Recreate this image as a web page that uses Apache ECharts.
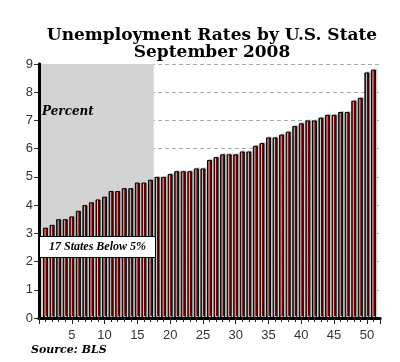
<!DOCTYPE html>
<html>
<head>
<meta charset="utf-8">
<script src="https://cdn.jsdelivr.net/npm/echarts@6/dist/echarts.min.js"></script>
<style>html,body{margin:0;padding:0;background:#fff;}#c{width:400px;height:362px;}</style>
</head>
<body>
<div id="c"></div>
<script>
var titleLines = ['Unemployment Rates by U.S. State', 'September 2008'];
var stateRank = [];
for (var i = 1; i <= 51; i++) stateRank.push(i);
var rates = [3.2, 3.3, 3.5, 3.5, 3.6, 3.8, 4.0, 4.1, 4.2, 4.3,
             4.5, 4.5, 4.6, 4.6, 4.8, 4.8, 4.9, 5.0, 5.0, 5.1,
             5.2, 5.2, 5.2, 5.3, 5.3, 5.6, 5.7, 5.8, 5.8, 5.8,
             5.9, 5.9, 6.1, 6.2, 6.4, 6.4, 6.5, 6.6, 6.8, 6.9,
             7.0, 7.0, 7.1, 7.2, 7.2, 7.3, 7.3, 7.7, 7.8, 8.7, 8.8];
var shadedRange = [0, 17.5];
var xTickLabels = [5, 10, 15, 20, 25, 30, 35, 40, 45, 50];
var yTicks = [0, 1, 2, 3, 4, 5, 6, 7, 8, 9];

var chart = echarts.init(document.getElementById('c'), null, {renderer: 'canvas'});
var barData = stateRank.map(function (r, i) { return [r, rates[i]]; });
var serif = '"DejaVu Serif", "Liberation Serif", serif';
var serif2 = '"Liberation Serif", "DejaVu Serif", serif';
var sans = '"Liberation Sans", Arial, sans-serif';

chart.setOption({
  animation: false,
  backgroundColor: '#fff',
  title: {
    text: titleLines.join('\n'),
    left: 207, top: 22, textAlign: 'center',
    textStyle: {fontFamily: serif, fontWeight: 'bold', fontSize: 17, lineHeight: 17, color: '#000'}
  },
  grid: {left: 39, right: 20, top: 64, bottom: 44},
  xAxis: [{
    type: 'value', min: 0, max: 52, interval: 5, z: 3,
    axisLine: {show: true, onZero: false, lineStyle: {color: '#000', width: 3}},
    axisTick: {show: true, length: 6, lineStyle: {color: '#222'}},
    minorTick: {show: true, splitNumber: 5, length: 4, lineStyle: {color: '#222'}},
    splitLine: {show: false},
    axisLabel: {color: '#333', fontFamily: sans, fontSize: 13, margin: 11,
      formatter: function (v) { return xTickLabels.indexOf(v) >= 0 ? String(v) : ''; }}
  }, {
    type: 'value', min: 0, max: 52, position: 'top', z: 3,
    axisLine: {show: true, lineStyle: {color: '#000', width: 3}},
    axisTick: {show: false}, axisLabel: {show: false}, splitLine: {show: false}
  }],
  yAxis: [{
    type: 'value', min: 0, max: 9, interval: 1, z: 1,
    axisLine: {show: true, lineStyle: {color: '#000', width: 3}},
    axisTick: {show: true, length: 5, lineStyle: {color: '#333'}},
    axisLabel: {color: '#333', fontFamily: sans, fontSize: 13, margin: 6,
      formatter: function (v) { return yTicks.indexOf(v) >= 0 ? String(v) : ''; }},
    splitLine: {show: true, lineStyle: {color: '#aaa', type: [4, 3], width: 1}}
  }, {
    type: 'value', min: 0, max: 9, position: 'right', z: 3,
    axisLine: {show: true, lineStyle: {color: '#000', width: 3}},
    axisTick: {show: false}, axisLabel: {show: false}, splitLine: {show: false}
  }],
  series: [{
    type: 'line', data: [], z: 0, silent: true,
    markArea: {silent: true, itemStyle: {color: '#d3d3d3'},
      data: [[{xAxis: shadedRange[0], yAxis: 0}, {xAxis: shadedRange[1], yAxis: 9}]]}
  }, {
    type: 'bar', data: barData, barWidth: 5, z: 2,
    itemStyle: {color: '#6e0000', borderColor: '#000', borderWidth: 1,
      shadowColor: 'rgba(205,205,205,1)', shadowOffsetX: 1.5, shadowOffsetY: -1, shadowBlur: 0}
  }],
  graphic: [
    {type: 'text', left: 42, top: 106, z: 10,
      style: {text: 'Percent', font: 'italic bold 12px ' + serif, fill: '#000'}},
    {type: 'text', left: 39, top: 236, z: 10,
      style: {text: '17 States Below 5%', font: 'italic bold 12px ' + serif2, fill: '#000',
        backgroundColor: '#fff', borderColor: '#000', borderWidth: 1,
        padding: [4, 9, 4, 9]}},
    {type: 'text', left: 31, top: 345, z: 10,
      style: {text: 'Source: BLS', font: 'italic bold 11px ' + serif, fill: '#000'}}
  ]
});
</script>
</body>
</html>
